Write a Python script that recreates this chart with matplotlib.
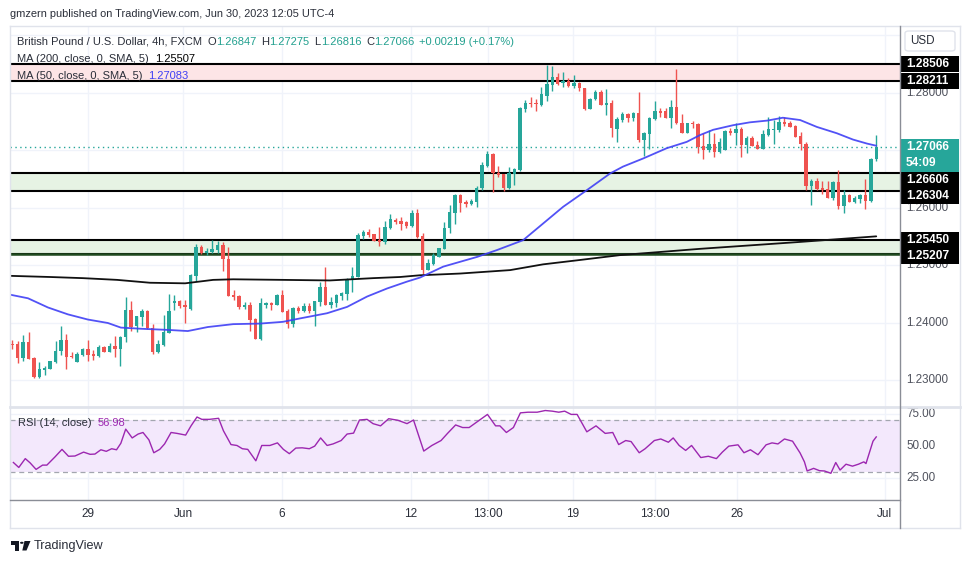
import matplotlib
matplotlib.use('Agg')
import matplotlib.pyplot as plt
from matplotlib.patches import Rectangle, FancyBboxPatch, Polygon, Circle
from matplotlib.lines import Line2D
import numpy as np

# ---------------- data ----------------
opens = [1.2364, 1.2363, 1.2339, 1.2367, 1.2339, 1.2306, 1.2319, 1.2320, 1.2332, 1.2352,
         1.2371, 1.2342, 1.2332, 1.2344, 1.2355, 1.2346, 1.2343, 1.2359, 1.2349, 1.2360,
         1.2355, 1.2375, 1.2422, 1.2395, 1.2411, 1.2421, 1.2391, 1.2349, 1.2362, 1.2382,
         1.2435, 1.2439, 1.2431, 1.2425, 1.2482, 1.2533, 1.2522, 1.2524, 1.2527, 1.2535,
         1.2512, 1.2449, 1.2447, 1.2428, 1.2431, 1.2407, 1.2372, 1.2432, 1.2434, 1.2431,
         1.2448, 1.2421, 1.2399, 1.2426, 1.2421, 1.2429, 1.2421, 1.2436, 1.2462, 1.2431,
         1.2435, 1.2447, 1.2450, 1.2475, 1.2480, 1.2552, 1.2559, 1.2555, 1.2544, 1.2540,
         1.2566, 1.2579, 1.2577, 1.2575, 1.2569, 1.2591, 1.2552, 1.2492, 1.2502, 1.2515,
         1.2529, 1.2565, 1.2592, 1.2622, 1.2610, 1.2607, 1.2611, 1.2634, 1.2673, 1.2694,
         1.2660, 1.2659, 1.2634, 1.2659, 1.2666, 1.2773, 1.2783, 1.2782, 1.2779, 1.2795,
         1.2814, 1.2827, 1.2817, 1.2820, 1.2813, 1.2818, 1.2808, 1.2773, 1.2789, 1.2801,
         1.2779, 1.2783, 1.2737, 1.2753, 1.2763, 1.2757, 1.2765, 1.2718, 1.2729, 1.2755,
         1.2769, 1.2769, 1.2757, 1.2775, 1.2748, 1.2731, 1.2748, 1.2746, 1.2708, 1.2700,
         1.2711, 1.2698, 1.2701, 1.2734, 1.2731, 1.2737, 1.2710, 1.2722, 1.2710, 1.2703,
         1.2727, 1.2736, 1.2736, 1.2750, 1.2748, 1.2743, 1.2725, 1.2711, 1.2638, 1.2647,
         1.2635, 1.2633, 1.2618, 1.2645, 1.2603, 1.2622, 1.2611, 1.2616, 1.2623, 1.2613,
         1.26847]
highs = [1.2370, 1.2368, 1.2379, 1.2385, 1.2340, 1.2332, 1.2325, 1.2334, 1.2368, 1.2395,
         1.2381, 1.2350, 1.2349, 1.2357, 1.2370, 1.2353, 1.2362, 1.2360, 1.2366, 1.2377,
         1.2377, 1.2445, 1.2438, 1.2412, 1.2424, 1.2422, 1.2398, 1.2370, 1.2414, 1.2450,
         1.2449, 1.2440, 1.2440, 1.2486, 1.2538, 1.2536, 1.2530, 1.2544, 1.2543, 1.2541,
         1.2533, 1.2457, 1.2448, 1.2436, 1.2436, 1.2408, 1.2443, 1.2436, 1.2436, 1.2450,
         1.2457, 1.2424, 1.2427, 1.2429, 1.2434, 1.2435, 1.2438, 1.2471, 1.2498, 1.2446,
         1.2450, 1.2454, 1.2478, 1.2497, 1.2556, 1.2561, 1.2563, 1.2555, 1.2567, 1.2577,
         1.2589, 1.2583, 1.2585, 1.2577, 1.2596, 1.2598, 1.2556, 1.2511, 1.2521, 1.2531,
         1.2576, 1.2605, 1.2625, 1.2625, 1.2614, 1.2615, 1.2638, 1.2680, 1.2699, 1.2695,
         1.2673, 1.2659, 1.2672, 1.2670, 1.2776, 1.2787, 1.2793, 1.2789, 1.2811, 1.2849,
         1.2847, 1.2834, 1.2837, 1.2826, 1.2831, 1.2819, 1.2808, 1.2791, 1.2805, 1.2805,
         1.2807, 1.2788, 1.2758, 1.2767, 1.2766, 1.2767, 1.2801, 1.2733, 1.2758, 1.2786,
         1.2774, 1.2774, 1.2788, 1.2842, 1.2763, 1.2748, 1.2751, 1.2747, 1.2730, 1.2736,
         1.2730, 1.2721, 1.2736, 1.2739, 1.2748, 1.2741, 1.2726, 1.2726, 1.2717, 1.2736,
         1.2758, 1.2753, 1.2760, 1.2759, 1.2752, 1.2744, 1.2733, 1.2714, 1.2650, 1.2653,
         1.2647, 1.2647, 1.2647, 1.2666, 1.2631, 1.2624, 1.2620, 1.2625, 1.2650, 1.2687,
         1.27275]
lows = [1.2355, 1.2331, 1.2334, 1.2337, 1.2305, 1.2305, 1.2310, 1.2320, 1.2331, 1.2344,
        1.2320, 1.2339, 1.2332, 1.2343, 1.2334, 1.2336, 1.2341, 1.2350, 1.2349, 1.2341,
        1.2325, 1.2367, 1.2386, 1.2385, 1.2395, 1.2389, 1.2346, 1.2348, 1.2360, 1.2382,
        1.2422, 1.2426, 1.2400, 1.2422, 1.2473, 1.2520, 1.2519, 1.2522, 1.2522, 1.2491,
        1.2447, 1.2440, 1.2425, 1.2425, 1.2386, 1.2372, 1.2371, 1.2426, 1.2422, 1.2431,
        1.2419, 1.2392, 1.2393, 1.2418, 1.2419, 1.2417, 1.2395, 1.2429, 1.2431, 1.2426,
        1.2428, 1.2440, 1.2440, 1.2454, 1.2480, 1.2546, 1.2549, 1.2542, 1.2534, 1.2537,
        1.2563, 1.2573, 1.2561, 1.2565, 1.2567, 1.2547, 1.2485, 1.2492, 1.2501, 1.2514,
        1.2528, 1.2556, 1.2573, 1.2593, 1.2601, 1.2606, 1.2601, 1.2631, 1.2672, 1.2627,
        1.2654, 1.2630, 1.2633, 1.2640, 1.2664, 1.2767, 1.2776, 1.2769, 1.2777, 1.2786,
        1.2803, 1.2814, 1.2810, 1.2811, 1.2808, 1.2803, 1.2770, 1.2772, 1.2788, 1.2779,
        1.2762, 1.2723, 1.2714, 1.2749, 1.2749, 1.2752, 1.2715, 1.2691, 1.2702, 1.2753,
        1.2759, 1.2757, 1.2739, 1.2746, 1.2730, 1.2730, 1.2739, 1.2696, 1.2686, 1.2698,
        1.2689, 1.2696, 1.2700, 1.2727, 1.2710, 1.2688, 1.2695, 1.2708, 1.2703, 1.2703,
        1.2725, 1.2711, 1.2733, 1.2743, 1.2740, 1.2723, 1.2701, 1.2631, 1.2605, 1.2632,
        1.2625, 1.2617, 1.2614, 1.2599, 1.2591, 1.2610, 1.2608, 1.2608, 1.2598, 1.2611,
        1.26816]
closes = [1.2362, 1.2339, 1.2367, 1.2338, 1.2306, 1.2320, 1.2322, 1.2334, 1.2352, 1.2370,
          1.2341, 1.2340, 1.2346, 1.2355, 1.2345, 1.2343, 1.2358, 1.2350, 1.2360, 1.2355,
          1.2376, 1.2422, 1.2393, 1.2412, 1.2421, 1.2391, 1.2349, 1.2363, 1.2384, 1.2420,
          1.2438, 1.2429, 1.2428, 1.2483, 1.2533, 1.2522, 1.2525, 1.2529, 1.2535, 1.2512,
          1.2447, 1.2446, 1.2428, 1.2431, 1.2405, 1.2372, 1.2435, 1.2434, 1.2431, 1.2448,
          1.2419, 1.2399, 1.2426, 1.2420, 1.2429, 1.2421, 1.2438, 1.2462, 1.2431, 1.2437,
          1.2448, 1.2452, 1.2476, 1.2482, 1.2553, 1.2559, 1.2553, 1.2543, 1.2540, 1.2567,
          1.2580, 1.2575, 1.2573, 1.2569, 1.2591, 1.2550, 1.2492, 1.2504, 1.2518, 1.2530,
          1.2566, 1.2593, 1.2622, 1.2608, 1.2607, 1.2612, 1.2635, 1.2675, 1.2694, 1.2660,
          1.2657, 1.2634, 1.2660, 1.2668, 1.2774, 1.2783, 1.2780, 1.2780, 1.2798, 1.2816,
          1.2827, 1.2816, 1.2820, 1.2813, 1.2818, 1.2808, 1.2772, 1.2790, 1.2801, 1.2779,
          1.2783, 1.2739, 1.2755, 1.2763, 1.2757, 1.2765, 1.2718, 1.2730, 1.2756, 1.2769,
          1.2766, 1.2757, 1.2775, 1.2747, 1.2731, 1.2748, 1.2746, 1.2706, 1.2700, 1.2711,
          1.2698, 1.2715, 1.2734, 1.2731, 1.2737, 1.2710, 1.2722, 1.2708, 1.2703, 1.2729,
          1.2737, 1.2737, 1.2749, 1.2746, 1.2741, 1.2724, 1.2711, 1.2638, 1.2647, 1.2633,
          1.2631, 1.2618, 1.2645, 1.2603, 1.2622, 1.2611, 1.2618, 1.2623, 1.2613, 1.2685,
          1.27066]

ma50_x = [-0.8, 2.9, 6.6, 10.3, 14.0, 17.7, 20.1, 23.8, 28.8, 32.5, 36.2, 40.9, 45.9, 50.1,
          53.3, 58.3, 62.0, 65.7, 69.4, 73.1, 75.5, 79.8, 86.1, 89.8, 94.6, 98.3, 102.0, 106.4,
          110.7, 113.1, 116.8, 121.2, 124.9, 127.4, 129.8, 133.5, 136.6, 139.8, 142.7, 145.9,
          149.0, 152.7, 155.7, 158.3, 160.0]
ma50 = [1.2450, 1.2443, 1.2427, 1.2415, 1.2406, 1.2400, 1.2392, 1.2390, 1.2388, 1.2386,
        1.2393, 1.2398, 1.2399, 1.2402, 1.2408, 1.2417, 1.2428, 1.2446, 1.2460, 1.2472,
        1.2479, 1.2498, 1.2515, 1.2527, 1.2544, 1.2573, 1.2602, 1.2631, 1.2660, 1.2672,
        1.2686, 1.2704, 1.2715, 1.2727, 1.2736, 1.2744, 1.2749, 1.2752, 1.2757, 1.2753,
        1.2741, 1.2730, 1.2719, 1.2712, 1.27083]

ma200_x = [-0.4, 7.0, 13.1, 19.4, 25.5, 32.0, 37.2, 40.9, 50.1, 58.8, 66.8, 71.8, 75.5,
           82.9, 92.2, 98.3, 104.6, 112.5, 127.4, 145.9, 160.0]
ma200 = [1.2482, 1.2480, 1.2478, 1.2475, 1.2470, 1.2469, 1.2475, 1.2476, 1.2475, 1.2474,
         1.2478, 1.2480, 1.2483, 1.2486, 1.2492, 1.2502, 1.2509, 1.2518, 1.2529, 1.2541,
         1.25507]

rsi_x = [0.2, 1.2, 2.4, 3.3, 4.4, 5.6, 6.4, 7.9, 9.2, 10.4, 11.6, 13.2, 14.4, 15.3, 16.4,
         17.4, 18.4, 19.3, 20.1, 21.0, 22.2, 23.3, 24.2, 25.3, 26.2, 27.3, 28.2, 29.4, 30.5,
         32.1, 33.1, 34.2, 35.1, 36.5, 38.2, 39.1, 40.5, 41.6, 42.6, 43.6, 45.1, 46.2, 47.7,
         49.1, 50.2, 51.3, 52.5, 53.7, 55.0, 56.0, 57.1, 58.3, 59.4, 60.9, 62.0, 63.2, 64.3,
         65.7, 66.8, 68.2, 69.7, 71.4, 73.1, 74.3, 76.2, 77.7, 79.4, 80.6, 82.1, 83.4, 84.6,
         86.3, 88.0, 89.5, 90.3, 91.5, 92.8, 94.1, 95.5, 97.2, 98.7, 100.0, 101.2, 102.3,
         103.5, 104.6, 106.4, 108.1, 109.8, 111.2, 112.3, 113.6, 114.6, 116.1, 117.2, 118.9,
         120.1, 121.5, 122.4, 123.5, 124.7, 125.8, 127.5, 128.9, 130.4, 131.5, 132.7, 134.4,
         135.5, 136.7, 138.1, 139.6, 140.7, 141.8, 143.0, 144.5, 145.9, 146.7, 147.2, 148.4,
         149.5, 150.4, 151.6, 152.5, 153.3, 154.4, 155.6, 156.7, 157.7, 158.1, 159.4, 160.0]
rsi = [37.3, 33.5, 40.3, 37.0, 32.0, 35.3, 35.3, 41.6, 47.4, 42.1, 42.3, 45.3, 43.6, 43.8, 47.1,
       45.9, 47.9, 47.1, 52.1, 63.0, 56.2, 59.2, 60.4, 54.7, 44.8, 47.4, 51.6, 60.4, 59.7,
       58.4, 65.5, 72.3, 70.5, 70.5, 71.3, 61.7, 51.1, 50.4, 47.9, 47.4, 38.6, 50.4, 50.4,
       52.4, 47.4, 44.1, 48.4, 48.6, 47.9, 49.9, 56.2, 50.4, 51.6, 54.2, 59.2, 59.9, 70.0,
       70.5, 67.2, 65.5, 71.0, 69.8, 67.2, 70.0, 46.1, 50.4, 54.2, 59.7, 66.2, 64.2, 64.2,
       69.2, 74.3, 65.5, 65.5, 60.4, 64.2, 75.5, 76.0, 76.0, 77.3, 76.8, 76.0, 76.8,
       74.3, 74.3, 60.9, 65.5, 59.7, 60.4, 51.1, 54.2, 53.4, 44.8, 47.9, 54.2,
       55.4, 52.9, 56.2, 50.4, 46.6, 50.4, 41.1, 42.1, 40.3, 45.3, 49.9, 50.9,
       44.8, 47.1, 43.3, 50.9, 52.4, 51.6, 55.4, 53.7, 44.6, 37.8, 30.8, 32.8,
       31.0, 30.8, 29.0, 37.3, 31.5, 36.0, 34.5, 36.0, 37.8, 36.5, 53.7, 56.98]

zone_levels = [(1.28211, 1.28506), (1.26304, 1.26606), (1.25207, 1.25450)]
level_labels = ["1.28506", "1.28211", "1.26606", "1.26304", "1.25450", "1.25207"]
last_price = 1.27066
countdown = "54:09"
price_ticks = [1.23, 1.24, 1.25, 1.26, 1.27, 1.28]
rsi_ticks = [25, 50, 75]
x_tick_pos = [14.0, 31.6, 49.9, 73.8, 88.1, 103.8, 119.0, 134.2, 161.6]
x_tick_labels = ["29", "Jun", "6", "12", "13:00", "19", "13:00", "26", "Jul"]

# ---------------- style ----------------
GREEN = '#26a69a'
RED = '#ef5350'
TEAL_TXT = '#22a08f'
BLUE = '#3f3ff5'
PURPLE = '#9c27b0'
GRID = '#f0f3fa'
DARK = '#2a2e39'
GREY = '#50535e'
FONT = ['Liberation Sans', 'DejaVu Sans']
plt.rcParams['font.family'] = FONT

W_PX, H_PX = 970, 563
fig = plt.figure(figsize=(W_PX / 100, H_PX / 100), dpi=100)
fig.patch.set_facecolor('white')


def fx(px):
    return px / W_PX


def fy(py):
    return 1 - py / H_PX


PL, PR = 10, 900
MAIN_T, MAIN_B = 27, 406
RSI_T, RSI_B = 406, 500
FR_R, FR_T, FR_B = 960, 26, 528

Y_TOP, Y_BOT = 1.291478, 1.225565
R_TOP, R_BOT = 80.77, 8.46
X_L, X_R = -0.43, 164.4

ax = fig.add_axes([fx(PL), fy(MAIN_B), fx(PR - PL), (MAIN_B - MAIN_T) / H_PX])
axr = fig.add_axes([fx(PL), fy(RSI_B), fx(PR - PL), (RSI_B - RSI_T) / H_PX])
axp = fig.add_axes([fx(PR), fy(MAIN_B), fx(FR_R - PR), (MAIN_B - MAIN_T) / H_PX])
axq = fig.add_axes([fx(PR), fy(RSI_B), fx(FR_R - PR), (RSI_B - RSI_T) / H_PX])

for a in (ax, axr):
    a.set_xlim(X_L, X_R)
    for s in a.spines.values():
        s.set_visible(False)
    a.set_yticks([])
ax.set_ylim(Y_BOT, Y_TOP)
axr.set_ylim(R_BOT, R_TOP)
ax.set_xticks([])
for a in (axp, axq):
    a.set_xlim(0, FR_R - PR)
    a.axis('off')
axp.set_ylim(Y_BOT, Y_TOP)
axq.set_ylim(R_BOT, R_TOP)

# grid
for p in price_ticks + [1.29]:
    ax.axhline(p, color=GRID, lw=1, zorder=0)
for v in rsi_ticks:
    axr.axhline(v, color=GRID, lw=1, zorder=0)
for xp in x_tick_pos:
    ax.axvline(xp, color=GRID, lw=1, zorder=0)
    axr.axvline(xp, color=GRID, lw=1, zorder=0)

# zones
zone_fill = ['#fde5e6', '#e6f3e4', '#e6f3e4']
for (lo, hi), fc in zip(zone_levels, zone_fill):
    ax.axhspan(lo, hi, color=fc, lw=0, zorder=1)
    ax.axhline(hi, color='black', lw=1.5, zorder=3)
    ax.axhline(lo, color='black', lw=1.5, zorder=3)
ax.axhline(zone_levels[-1][0], color='#1f4a1f', lw=1.8, zorder=3)

# last-price dotted line
ax.axhline(last_price, color=GREEN, lw=1, ls=(0, (1, 2.5)), zorder=3)

# candles
o = np.array(opens); h = np.array(highs); l = np.array(lows); c = np.array(closes)
idx = np.arange(len(o))
cols = np.where(c >= o, GREEN, RED)
ax.vlines(idx, l, h, colors=cols, lw=1, zorder=4)
body = np.maximum(np.abs(c - o), 0.00012)
ax.bar(idx, body, bottom=np.minimum(o, c), width=0.64, color=cols, lw=0, zorder=5)

# moving averages
ax.plot(ma200_x, ma200, color='#111111', lw=1.3, zorder=6, solid_capstyle='round')
ax.plot(ma50_x, ma50, color=BLUE, lw=1.3, zorder=6, alpha=0.9, solid_capstyle='round')

# RSI panel
axr.axhspan(30, 70, color='#f3e8fc', lw=0, zorder=0.5)
for v in (30, 70):
    axr.axhline(v, color='#a3a6af', lw=0.9, ls=(0, (4, 3)), zorder=1)
axr.plot(rsi_x, rsi, color=PURPLE, lw=1.0, zorder=3)

# x ticks
axr.set_xticks(x_tick_pos)
axr.set_xticklabels(x_tick_labels)
axr.tick_params(axis='x', length=0, pad=6, labelsize=8.5, labelcolor=DARK)

# ---------------- price scale ----------------
ppx = (MAIN_B - MAIN_T) / (Y_TOP - Y_BOT)


def py_of(p):
    return MAIN_T + (Y_TOP - p) * ppx


def p_of(py):
    return Y_TOP - (py - MAIN_T) / ppx


labels = [(float(s), s, 'k') for s in level_labels] + [(last_price, f"{last_price:.5f}", 't')]
labels.sort(key=lambda t: -t[0])
prev_bottom = -1e9
boxes = []
for price, txt, kind in labels:
    hgt = 16 if kind == 'k' else 33
    top = py_of(price) - 8
    if top < prev_bottom:
        top = prev_bottom
    bot = top + hgt
    boxes.append((top, bot))
    fc = 'black' if kind == 'k' else GREEN
    axp.add_patch(Rectangle((0, p_of(bot)), FR_R - PR - 1, p_of(top) - p_of(bot),
                            facecolor=fc, edgecolor='none', zorder=3, clip_on=False))
    axp.text(6, p_of(top + 8), txt, fontsize=8.6, color='white', va='center', ha='left',
             zorder=4, fontweight='bold')
    if kind == 't':
        axp.text(6, p_of(top + 24), countdown, fontsize=8.6, color='white', va='center',
                 ha='left', zorder=4, fontweight='bold')
    prev_bottom = bot

# regular price ticks: those hidden behind a label box are not drawn;
# a partly covered one is clipped to the visible strip below the box
for p in price_ticks:
    yc = py_of(p)
    if any(t <= yc <= b for t, b in boxes):
        continue
    t = axp.text(6, p, f"{p:.5f}", fontsize=8.4, color=GREY, va='center', ha='left', zorder=1)
    above = [b for tp, b in boxes if b < yc and yc - b < 6]
    if above:
        clip = Rectangle((0, Y_BOT), FR_R - PR, p_of(max(above)) - Y_BOT,
                         transform=axp.transData)
        t.set_clip_path(clip)

for v in rsi_ticks:
    axq.text(6, v, f"{v:.2f}", fontsize=8.4, color=GREY, va='center', ha='left')

# USD box
fig.add_artist(FancyBboxPatch((fx(905), fy(51)), fx(50), (51 - 31) / H_PX,
                              boxstyle='round,pad=0,rounding_size=0.004',
                              transform=fig.transFigure, facecolor='white',
                              edgecolor='#e0e3eb', lw=1, zorder=10))
fig.text(fx(910), fy(41.5), 'USD', fontsize=8.4, color=DARK, va='center', ha='left', zorder=11)


# frame lines
def fline(x0, y0, x1, y1, color, lw):
    fig.add_artist(Line2D([fx(x0), fx(x1)], [fy(y0), fy(y1)], color=color, lw=lw,
                          transform=fig.transFigure, zorder=9))


fline(PL, FR_T, FR_R, FR_T, '#e0e3eb', 1)
fline(PL, FR_B, FR_R, FR_B, '#e0e3eb', 1)
fline(PL, FR_T, PL, FR_B, '#e0e3eb', 1)
fline(FR_R, FR_T, FR_R, FR_B, '#e0e3eb', 1)
fline(PL, RSI_T + 0.5, FR_R, RSI_T + 0.5, '#e0e3eb', 2)
fline(PL, RSI_B, PR, RSI_B, '#8a8d96', 1)
fline(PR, FR_T, PR, FR_B, '#8a8d96', 1)

# ---------------- texts ----------------
renderer = fig.canvas.get_renderer()


def fit_text(x, y, s, target_w, color, fs0=10, **kw):
    t = fig.text(fx(x), fy(y), s, fontsize=fs0, color=color, va='center', ha='left', **kw)
    w = t.get_window_extent(renderer).width
    fs = fs0 * target_w / w
    t.set_fontsize(fs)
    return t, fs


def chain(x, y, parts, fs, **kw):
    for s, col, gap in parts:
        t = fig.text(fx(x), fy(y), s, fontsize=fs, color=col, va='center', ha='left', **kw)
        x += t.get_window_extent(renderer).width + gap
    return x


fit_text(10, 14, 'gmzern published on TradingView.com, Jun 30, 2023 12:05 UTC-4', 325, DARK)

_, fs_leg = fit_text(17, 42, 'British Pound / U.S. Dollar, 4h, FXCM', 185, DARK, zorder=12)
chain(207.5, 42, [('O', DARK, 0), ('1.26847', TEAL_TXT, 5), ('H', DARK, 0), ('1.27275', TEAL_TXT, 5),
                  ('L', DARK, 0), ('1.26816', TEAL_TXT, 5), ('C', DARK, 0), ('1.27066', TEAL_TXT, 5),
                  ('+0.00219 (+0.17%)', TEAL_TXT, 0)], fs_leg, zorder=12)
chain(17, 59, [('MA (200, close, 0, SMA, 5)', DARK, 6), ('1.25507', '#000000', 0)], fs_leg, zorder=12)
chain(17, 76, [('MA (50, close, 0, SMA, 5)', DARK, 6), ('1.27083', BLUE, 0)], fs_leg, zorder=12)
chain(18, 423, [('RSI (14, close)', DARK, 6), ('56.98', PURPLE, 0)], fs_leg, zorder=12)

# TradingView logo
logo = [Polygon([(fx(11), fy(541)), (fx(19), fy(541)), (fx(19), fy(550.5)), (fx(15.5), fy(550.5)),
                 (fx(15.5), fy(544.5)), (fx(11), fy(544.5))], closed=True),
        Circle((fx(21.8), fy(542.8)), 1.8 / W_PX),
        Polygon([(fx(24.5), fy(541)), (fx(30.5), fy(541)), (fx(26.5), fy(550.5)), (fx(22.3), fy(550.5))],
                closed=True)]
for pch in logo:
    pch.set_transform(fig.transFigure)
    pch.set_facecolor('#131722')
    pch.set_edgecolor('none')
    fig.add_artist(pch)
fit_text(33.5, 546, 'TradingView', 70, DARK)

fig.savefig('out.png', dpi=100, facecolor='white')
